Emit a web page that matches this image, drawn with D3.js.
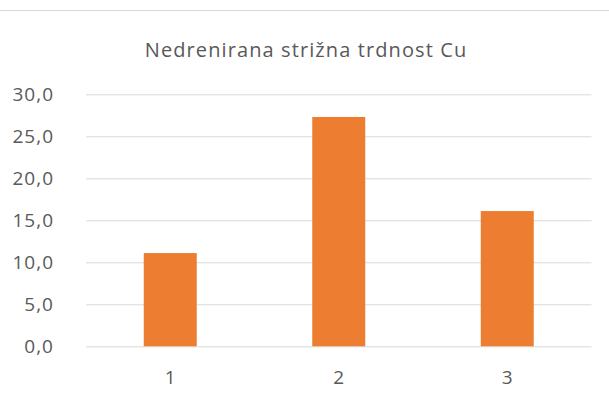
<!DOCTYPE html>
<html>
<head>
<meta charset="utf-8">
<script src="https://cdn.jsdelivr.net/npm/d3@7"></script>
<style>
  html, body { margin: 0; padding: 0; background: #fff; }
  svg { display: block; }
</style>
</head>
<body>
<svg id="chart" width="609" height="401"></svg>
<script>
// Chart data
const categories = ["1", "2", "3"];
const values = [11.1, 27.3, 16.1];
const yTicks = [0, 5, 10, 15, 20, 25, 30];
const title = "Nedrenirana strižna trdnost Cu";

const W = 609, H = 401;
const margin = { top: 94.3, right: 17.5, bottom: 54.7, left: 86 };

const svg = d3.select("#chart");
const font = "'Open Sans', 'Noto Sans', sans-serif";
const textColor = "#595959";
const gridColor = "#d9d9d9";

// chart-area frame edge along the top
svg.append("line")
  .attr("x1", 0).attr("x2", W)
  .attr("y1", 10.5).attr("y2", 10.5)
  .attr("stroke", gridColor).attr("stroke-width", 1);

const x = d3.scaleBand()
  .domain(categories)
  .range([margin.left, W - margin.right])
  .paddingInner(0.6855)
  .paddingOuter(0.34275);

const y = d3.scaleLinear()
  .domain([0, 30])
  .range([H - margin.bottom, margin.top]);

const fmt = v => d3.format(".1f")(v).replace(".", ",");

// gridlines and value labels
const yAxis = d3.axisLeft(y)
  .tickValues(yTicks)
  .tickSize(-(W - margin.right - margin.left))
  .tickFormat(fmt)
  .tickPadding(32);

const gy = svg.append("g")
  .attr("transform", `translate(${margin.left},0)`)
  .call(yAxis);
gy.select(".domain").remove();
gy.selectAll(".tick line").attr("stroke", gridColor).attr("stroke-width", 1);
gy.selectAll(".tick text")
  .attr("fill", textColor)
  .attr("font-family", font)
  .attr("font-size", 19)
  .attr("letter-spacing", 1);

// bars
svg.append("g").selectAll("rect")
  .data(values)
  .join("rect")
  .attr("x", (d, i) => x(categories[i]))
  .attr("width", x.bandwidth())
  .attr("y", d => y(d))
  .attr("height", d => y(0) - y(d))
  .attr("fill", "#ed7d31");

// category axis
const xAxis = d3.axisBottom(x).tickSize(0).tickPadding(24);
const gx = svg.append("g")
  .attr("transform", `translate(0,${y(0)})`)
  .call(xAxis);
gx.select(".domain").remove();
gx.selectAll(".tick text")
  .attr("fill", textColor)
  .attr("font-family", font)
  .attr("font-size", 19);

// title
svg.append("text")
  .attr("x", 306)
  .attr("y", 57)
  .attr("text-anchor", "middle")
  .attr("fill", textColor)
  .attr("font-family", font)
  .attr("font-size", 20)
  .attr("letter-spacing", 1.1)
  .text(title);
</script>
</body>
</html>
